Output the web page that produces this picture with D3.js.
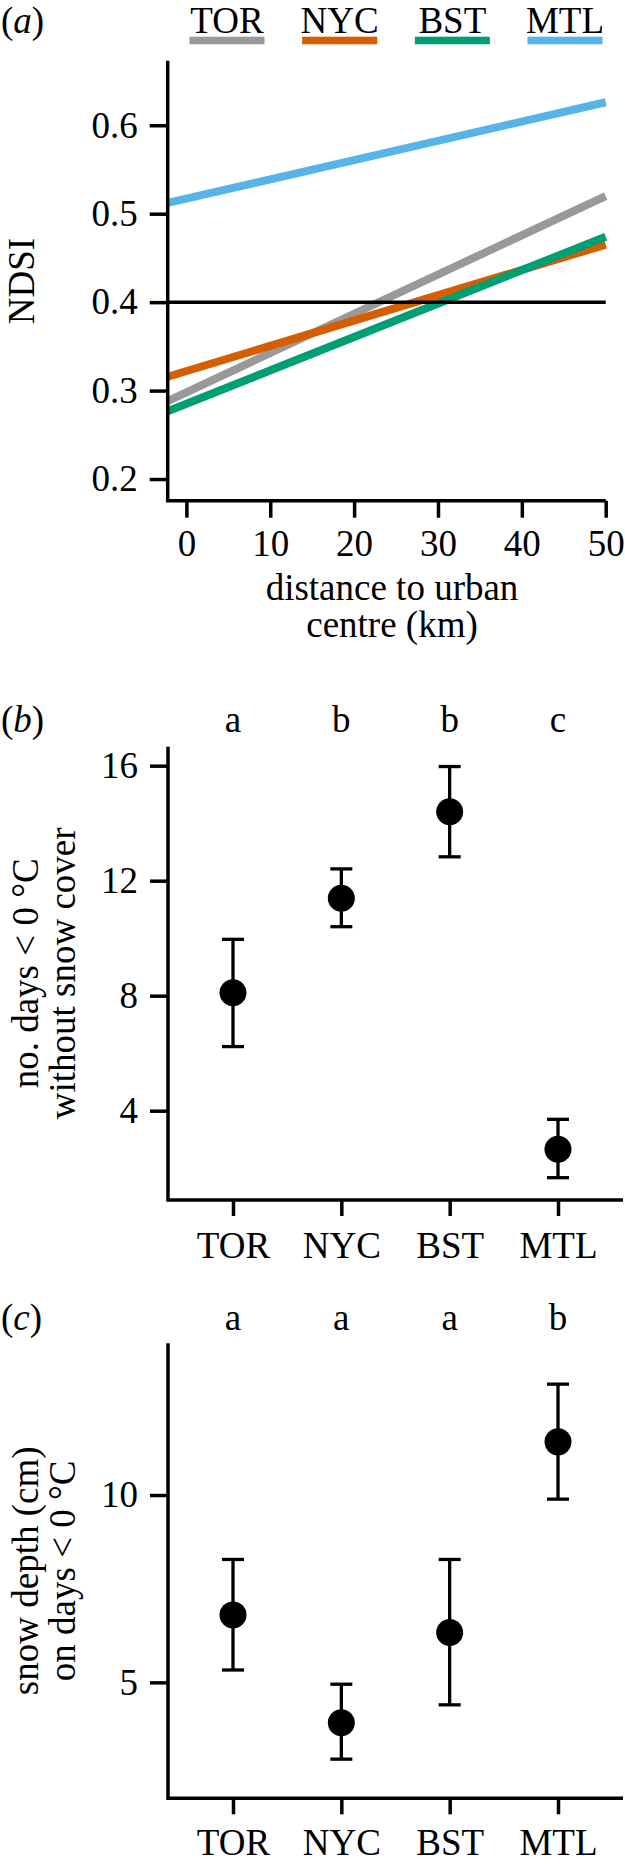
<!DOCTYPE html>
<html>
<head>
<meta charset="utf-8">
<script src="https://d3js.org/d3.v7.min.js"></script>
<style>
  body { margin: 0; background: #fff; }
  svg { display: block; background: #fff; }
  text { font-family: "Liberation Serif", "Times New Roman", serif; fill: #000; }
</style>
</head>
<body>
<svg id="chart" width="625" height="1864"></svg>
<script>
// cities, same order in every panel
var cities = ["TOR", "NYC", "BST", "MTL"];
var cityColors = ["#999999", "#D55E00", "#009E73", "#56B4E9"];

// (a) fitted NDSI at the urban centre (0 km) and at 50 km
var ndsiAtCentre = [0.298, 0.322, 0.285, 0.517];
var ndsiAt50km = [0.520, 0.465, 0.474, 0.626];
var distanceTicks = [0, 10, 20, 30, 40, 50];
var ndsiTicks = [0.2, 0.3, 0.4, 0.5, 0.6];
var ndsiThreshold = 0.4;

// (b) number of days < 0 C without snow cover
var bareDays = [8.10, 11.39, 14.40, 2.66];
var bareDaysLow = [6.23, 10.40, 12.83, 1.67];
var bareDaysHigh = [9.96, 12.41, 15.97, 3.70];
var bareDaysGroups = ["a", "b", "b", "c"];
var bareDaysTicks = [4, 8, 12, 16];

// (c) snow depth on days < 0 C
var snowDepth = [6.80, 3.92, 6.33, 11.42];
var snowDepthLow = [5.33, 2.95, 4.40, 9.89];
var snowDepthHigh = [8.28, 4.95, 8.28, 12.96];
var snowDepthGroups = ["a", "a", "a", "b"];
var snowDepthTicks = [5, 10];

var FONT = 37;
var AXIS_W = 3.5;
var svg = d3.select("#chart");

function styleAxis(g) {
  g.attr("font-family", '"Liberation Serif", "Times New Roman", serif').attr("font-size", FONT);
  g.select(".domain").remove();
  g.selectAll(".tick line").attr("stroke", "#000").attr("stroke-width", AXIS_W);
  g.selectAll(".tick text").attr("fill", "#000");
}

// R style "L" box: left and bottom sides of the plot region
function drawBox(x, y) {
  var xr = x.range(), yr = y.range();
  svg.append("path")
    .attr("d", "M" + xr[0] + "," + yr[1] + "V" + yr[0] + "H" + xr[1])
    .attr("fill", "none")
    .attr("stroke", "#000")
    .attr("stroke-width", AXIS_W)
    .attr("stroke-linejoin", "miter");
}

function panelLetter(letter, baseline) {
  var t = svg.append("text").attr("x", 1).attr("y", baseline).attr("font-size", FONT);
  t.append("tspan").text("(");
  t.append("tspan").attr("font-style", "italic").text(letter);
  t.append("tspan").text(")");
}

function yTitle(lines, xs, cy) {
  lines.forEach(function(line, i) {
    svg.append("text")
      .attr("transform", "translate(" + xs[i] + "," + cy + ") rotate(-90)")
      .attr("text-anchor", "middle")
      .attr("font-size", FONT)
      .text(line);
  });
}

// ---------------- panel (a) ----------------
var xA = d3.scaleLinear().domain([-2.23, 50]).range([167.7, 605.7]);
var yA = d3.scaleLinear().domain([0.1755, 0.673]).range([500.7, 60.7]);

panelLetter("a", 33);

// legend above the plot
var legendX = d3.scalePoint().domain(cities).range([227, 565]);
cities.forEach(function(c, i) {
  svg.append("text")
    .attr("x", legendX(c))
    .attr("y", 32.5)
    .attr("text-anchor", "middle")
    .attr("font-size", FONT)
    .text(c);
  svg.append("rect")
    .attr("x", legendX(c) - 37.5)
    .attr("y", 36.7)
    .attr("width", 75)
    .attr("height", 7.6)
    .attr("fill", cityColors[i]);
});

svg.append("g")
  .attr("transform", "translate(" + xA.range()[0] + ",0)")
  .call(d3.axisLeft(yA).tickValues(ndsiTicks).tickSize(18).tickPadding(12).tickFormat(d3.format(".1f")))
  .call(styleAxis);

svg.append("g")
  .attr("transform", "translate(0," + yA.range()[0] + ")")
  .call(d3.axisBottom(xA).tickValues(distanceTicks).tickSize(17).tickPadding(12).tickFormat(d3.format("d")))
  .call(styleAxis);

// fitted lines, from the left edge of the plot out to 50 km
cities.forEach(function(c, i) {
  var slope = (ndsiAt50km[i] - ndsiAtCentre[i]) / 50;
  var ends = [xA.domain()[0], 50];
  var line = d3.line()
    .x(function(d) { return xA(d); })
    .y(function(d) { return yA(ndsiAtCentre[i] + slope * d); });
  svg.append("path")
    .attr("d", line(ends))
    .attr("fill", "none")
    .attr("stroke", cityColors[i])
    .attr("stroke-width", 8)
    .attr("stroke-linecap", "butt");
});

svg.append("line")
  .attr("x1", xA(xA.domain()[0]))
  .attr("x2", xA(50))
  .attr("y1", yA(ndsiThreshold))
  .attr("y2", yA(ndsiThreshold))
  .attr("stroke", "#000")
  .attr("stroke-width", AXIS_W);

drawBox(xA, yA);
yTitle(["NDSI"], [34], 281);

svg.append("text").attr("x", 392).attr("y", 600).attr("text-anchor", "middle").attr("font-size", FONT).text("distance to urban");
svg.append("text").attr("x", 392).attr("y", 637).attr("text-anchor", "middle").attr("font-size", FONT).text("centre (km)");

// ---------------- panels (b) and (c) ----------------
function dotPanel(opt) {
  var x = d3.scalePoint().domain(cities).range([168, 623]).padding(0.6);
  var y = d3.scaleLinear().domain(opt.yDomain).range(opt.yRange);

  panelLetter(opt.letter, opt.letterY);

  // significance letters above each city
  svg.selectAll(null)
    .data(cities)
    .enter()
    .append("text")
    .attr("x", function(d) { return x(d); })
    .attr("y", opt.letterY)
    .attr("text-anchor", "middle")
    .attr("font-size", FONT)
    .text(function(d, i) { return opt.groups[i]; });

  svg.append("g")
    .attr("transform", "translate(" + x.range()[0] + ",0)")
    .call(d3.axisLeft(y).tickValues(opt.ticks).tickSize(18).tickPadding(12))
    .call(styleAxis);

  svg.append("g")
    .attr("transform", "translate(0," + y.range()[0] + ")")
    .call(d3.axisBottom(x).tickSize(16).tickPadding(opt.xPad))
    .call(styleAxis);

  var bars = svg.append("g");
  cities.forEach(function(c, i) {
    var cx = x(c);
    bars.append("line")
      .attr("x1", cx).attr("x2", cx)
      .attr("y1", y(opt.low[i])).attr("y2", y(opt.high[i]))
      .attr("stroke", "#000").attr("stroke-width", 3.3);
    [opt.low[i], opt.high[i]].forEach(function(v) {
      bars.append("line")
        .attr("x1", cx - 11).attr("x2", cx + 11)
        .attr("y1", y(v)).attr("y2", y(v))
        .attr("stroke", "#000").attr("stroke-width", 3.3);
    });
    bars.append("circle")
      .attr("cx", cx)
      .attr("cy", y(opt.mean[i]))
      .attr("r", 13.5)
      .attr("fill", "#000");
  });

  drawBox(x, y);
  yTitle(opt.title, [38, 75], (y.range()[0] + y.range()[1]) / 2);
}

dotPanel({
  letter: "b", letterY: 731.7,
  mean: bareDays, low: bareDaysLow, high: bareDaysHigh,
  groups: bareDaysGroups, ticks: bareDaysTicks,
  yDomain: [0.894, 16.66], yRange: [1200, 746.7], xPad: 16,
  title: ["no. days < 0 \u00B0C", "without snow cover"]
});

dotPanel({
  letter: "c", letterY: 1330,
  mean: snowDepth, low: snowDepthLow, high: snowDepthHigh,
  groups: snowDepthGroups, ticks: snowDepthTicks,
  yDomain: [1.905, 14.05], yRange: [1798.3, 1343.3], xPad: 14,
  title: ["snow depth (cm)", "on days < 0 \u00B0C"]
});
</script>
</body>
</html>
